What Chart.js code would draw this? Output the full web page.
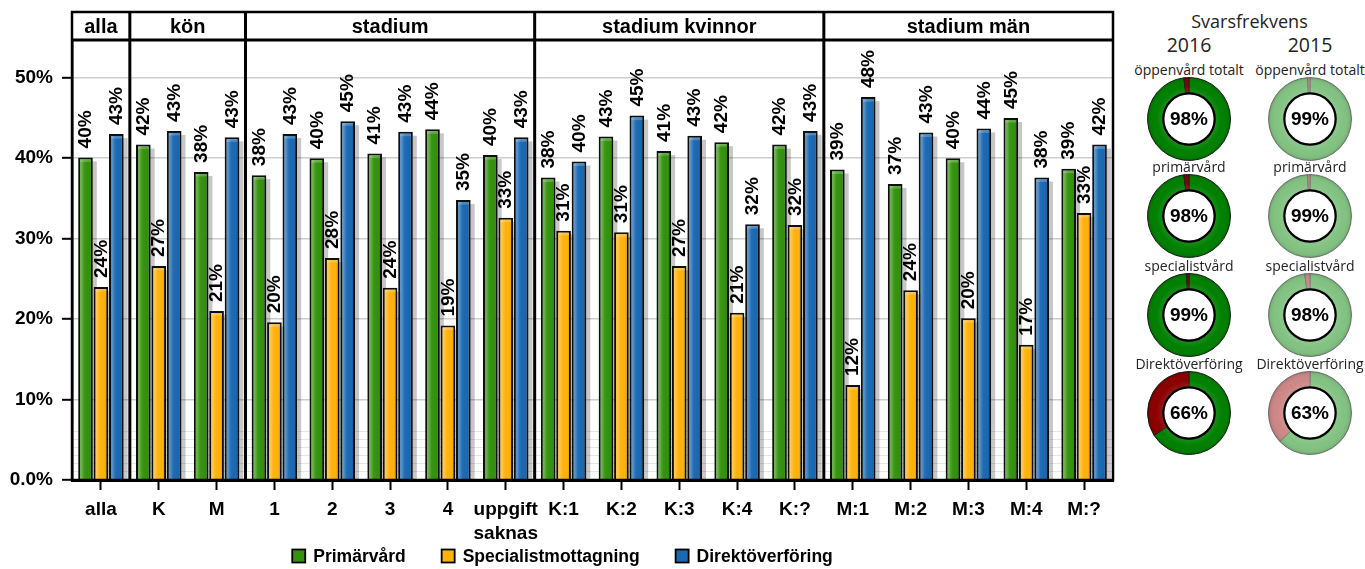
<!DOCTYPE html>
<html>
<head>
<meta charset="utf-8">
<script src="https://cdn.jsdelivr.net/npm/chart.js@4/dist/chart.umd.min.js"></script>
<style>
  html, body { margin: 0; padding: 0; background: #fff; }
  body { width: 1365px; height: 569px; overflow: hidden; position: relative; }
  #bars { position: absolute; left: 0; top: 0; }
  .rate { position: absolute; }
  .txt { position: absolute; transform: translate(-50%, -50%); white-space: nowrap;
         font-family: "Open Sans", "Noto Sans", sans-serif; color: #222; line-height: 1; }
  .title { font-size: 18px; }
  .year { font-size: 19.5px; }
  .grp { font-size: 14px; }
</style>
</head>
<body>
<canvas id="bars" width="1125" height="569"></canvas>
<div id="rates"></div>
<script>
// ---- data ----
const categories = ['alla', 'K', 'M', '1', '2', '3', '4', ['uppgift', 'saknas'],
  'K:1', 'K:2', 'K:3', 'K:4', 'K:?', 'M:1', 'M:2', 'M:3', 'M:4', 'M:?'];
const panelTitles = ['alla', 'kön', 'stadium', 'stadium kvinnor', 'stadium män'];
const panelSizes = [1, 2, 5, 5, 5];
const primarvard = [40.1, 41.7, 38.3, 37.9, 40.0, 40.6, 43.6, 40.4, 37.6, 42.7, 40.9, 42.0, 41.7, 38.6, 36.8, 40.0, 45.0, 38.7];
const specialist = [24.0, 26.6, 21.0, 19.6, 27.6, 23.9, 19.2, 32.6, 31.0, 30.8, 26.6, 20.8, 31.7, 11.8, 23.6, 20.1, 16.8, 33.2];
const direkt     = [43.0, 43.4, 42.6, 43.0, 44.6, 43.3, 34.8, 42.6, 39.6, 45.3, 42.8, 31.8, 43.4, 47.6, 43.2, 43.7, 37.6, 41.7];
const yTicks = [0, 10, 20, 30, 40, 50];
const minorTicks = [1, 2, 3, 4, 5, 6];

const rateTitle = 'Svarsfrekvens';
const rateYears = ['2016', '2015'];
const rateGroups = ['öppenvård totalt', 'primärvård', 'specialistvård', 'Direktöverföring'];
const rate2016 = [98, 98, 99, 66];
const rate2015 = [99, 99, 98, 63];

// ---- styling helpers ----
const FONT = '"Liberation Sans", Arial, sans-serif';
const pct = v => Math.round(v) + '%';

// shadows behind bars, glossy highlight on bars, rotated value labels
const barDecor = {
  id: 'barDecor',
  beforeDatasetsDraw(chart) {
    const ctx = chart.ctx;
    ctx.save();
    ctx.fillStyle = 'rgba(0,0,0,0.22)';
    chart.data.datasets.forEach((ds, i) => {
      chart.getDatasetMeta(i).data.forEach(bar => {
        const w = bar.width, left = bar.x - w / 2;
        ctx.fillRect(left + 4, bar.y + 4, w, bar.base - bar.y - 4);
      });
    });
    ctx.restore();
  },
  afterDatasetsDraw(chart) {
    const ctx = chart.ctx;
    ctx.save();
    chart.data.datasets.forEach((ds, i) => {
      chart.getDatasetMeta(i).data.forEach(bar => {
        const w = bar.width, left = bar.x - w / 2;
        const h = bar.base - bar.y;
        const g = ctx.createLinearGradient(left, 0, left + w, 0);
        g.addColorStop(0, 'rgba(255,255,255,0)');
        g.addColorStop(0.2, 'rgba(255,255,255,0.30)');
        g.addColorStop(0.42, 'rgba(255,255,255,0.04)');
        g.addColorStop(0.75, 'rgba(0,0,0,0.0)');
        g.addColorStop(1, 'rgba(0,0,0,0.22)');
        ctx.fillStyle = g;
        ctx.fillRect(left + 2, bar.y + 2, w - 4, h - 2);
        ctx.fillStyle = 'rgba(255,255,255,0.22)';
        ctx.fillRect(left + 2, bar.y + 2, w - 4, 2.5);
      });
    });
    ctx.fillStyle = '#000';
    ctx.font = 'bold 19px ' + FONT;
    ctx.textAlign = 'left';
    ctx.textBaseline = 'middle';
    chart.data.datasets.forEach((ds, i) => {
      chart.getDatasetMeta(i).data.forEach((bar, j) => {
        ctx.save();
        ctx.translate(bar.x + 0.5, bar.y - 9);
        ctx.rotate(-Math.PI / 2);
        ctx.fillText(pct(ds.data[j]), 0, 0);
        ctx.restore();
      });
    });
    ctx.restore();
  }
};

// facet header strips, facet dividers and plot frame
const panelStrips = {
  id: 'panelStrips',
  afterDraw(chart) {
    const { ctx, chartArea: a, scales: { x } } = chart;
    const half = (x.getPixelForValue(1) - x.getPixelForValue(0)) / 2;
    const stripTop = 12;
    ctx.save();
    let idx = 0;
    const edges = [];
    panelTitles.forEach((t, i) => {
      const x0 = x.getPixelForValue(idx) - half;
      const x1 = x.getPixelForValue(idx + panelSizes[i] - 1) + half;
      ctx.fillStyle = '#fff';
      ctx.fillRect(x0, stripTop, x1 - x0, a.top - stripTop);
      ctx.fillStyle = '#000';
      ctx.font = 'bold 20px ' + FONT;
      ctx.textAlign = 'center';
      ctx.textBaseline = 'middle';
      ctx.fillText(t, (x0 + x1) / 2, (stripTop + a.top) / 2 + 1);
      if (i > 0) edges.push(x0);
      idx += panelSizes[i];
    });
    ctx.strokeStyle = '#000';
    ctx.lineWidth = 2.5;
    ctx.strokeRect(a.left, stripTop, a.right - a.left, a.bottom - stripTop);
    ctx.lineWidth = 3;
    ctx.beginPath();
    ctx.moveTo(a.left, a.top);
    ctx.lineTo(a.right, a.top);
    ctx.stroke();
    edges.forEach(e => {
      ctx.beginPath();
      ctx.moveTo(e, stripTop);
      ctx.lineTo(e, a.bottom);
      ctx.stroke();
    });
    ctx.restore();
  }
};

// legend row under the axis
const legendRow = {
  id: 'legendRow',
  afterDraw(chart) {
    const ctx = chart.ctx;
    ctx.save();
    ctx.font = 'bold 17.5px ' + FONT;
    const box = 13, gapText = 8, gapItem = 36;
    const items = chart.data.datasets.map(ds => ({ label: ds.label, color: ds.backgroundColor, w: ctx.measureText(ds.label).width }));
    const total = items.reduce((s, it) => s + box + gapText + it.w, 0) + gapItem * (items.length - 1);
    let cx = chart.width / 2 - total / 2;
    const cy = 556;
    items.forEach(it => {
      ctx.fillStyle = it.color;
      ctx.fillRect(cx, cy - box / 2, box, box);
      ctx.strokeStyle = '#000';
      ctx.lineWidth = 1.8;
      ctx.strokeRect(cx, cy - box / 2, box, box);
      ctx.fillStyle = '#000';
      ctx.textAlign = 'left';
      ctx.textBaseline = 'middle';
      ctx.fillText(it.label, cx + box + gapText, cy + 1);
      cx += box + gapText + it.w + gapItem;
    });
    ctx.restore();
  }
};

const barDefaults = { borderColor: '#0e0e0e', borderWidth: 2, categoryPercentage: 0.8, barPercentage: 0.95 };

new Chart(document.getElementById('bars'), {
  type: 'bar',
  data: {
    labels: categories,
    datasets: [
      { label: 'Primärvård', data: primarvard, backgroundColor: '#33930c', ...barDefaults },
      { label: 'Specialistmottagning', data: specialist, backgroundColor: '#ffb20a', ...barDefaults },
      { label: 'Direktöverföring', data: direkt, backgroundColor: '#1a69b3', ...barDefaults }
    ]
  },
  options: {
    responsive: false,
    animation: false,
    devicePixelRatio: 1,
    layout: { padding: { left: 0, right: 12, top: 40, bottom: 0 } },
    plugins: { legend: { display: false }, tooltip: { enabled: false } },
    scales: {
      x: {
        afterFit(s) { s.height = 89; },
        grid: { display: true, offset: false, drawOnChartArea: false, drawTicks: true, tickLength: 10, tickColor: '#000', tickWidth: 2 },
        border: { display: true, color: '#000', width: 3 },
        ticks: { color: '#000', font: { family: FONT, size: 19, weight: 'bold', lineHeight: 1.25 }, padding: 8, maxRotation: 0, autoSkip: false }
      },
      y: {
        min: 0,
        max: 54.7,
        afterFit(s) { s.width = 72; },
        afterBuildTicks(s) { s.ticks = [...yTicks, ...minorTicks].sort((a, b) => a - b).map(v => ({ value: v })); },
        grid: {
          color: c => yTicks.includes(c.tick.value) ? '#cdcdcd' : '#e6e6e6',
          lineWidth: c => yTicks.includes(c.tick.value) ? 1.6 : 1,
          tickColor: c => yTicks.includes(c.tick.value) ? '#000' : 'rgba(0,0,0,0)',
          drawTicks: true,
          tickLength: 10,
          tickWidth: 2
        },
        border: { display: true, color: '#000', width: 2.5 },
        ticks: {
          color: '#000',
          padding: 9,
          font: { family: FONT, size: 19, weight: 'bold' },
          callback: v => yTicks.includes(v) ? (v === 0 ? '0.0%' : v + '%') : ''
        }
      }
    }
  },
  plugins: [barDecor, panelStrips, legendRow]
});

// ---- response-rate rings ----
const rateCenter = {
  id: 'rateCenter',
  afterDraw(chart) {
    const { ctx } = chart;
    const arc = chart.getDatasetMeta(0).data[0];
    const cx = arc.x, cy = arc.y, ro = arc.outerRadius, ri = arc.innerRadius;
    ctx.save();
    const g = ctx.createRadialGradient(cx, cy, ri, cx, cy, ro);
    g.addColorStop(0, 'rgba(255,255,255,0.10)');
    g.addColorStop(0.45, 'rgba(255,255,255,0)');
    g.addColorStop(0.85, 'rgba(0,0,0,0.04)');
    g.addColorStop(1, 'rgba(0,0,0,0.18)');
    ctx.beginPath();
    ctx.arc(cx, cy, ro, 0, Math.PI * 2);
    ctx.arc(cx, cy, ri, 0, Math.PI * 2, true);
    ctx.fillStyle = g;
    ctx.fill();
    ctx.beginPath();
    ctx.arc(cx, cy, ri - 0.5, 0, Math.PI * 2);
    ctx.fillStyle = '#fff';
    ctx.fill();
    ctx.lineWidth = 2.2;
    ctx.strokeStyle = '#000';
    ctx.stroke();
    ctx.fillStyle = '#000';
    ctx.font = 'bold 19px ' + FONT;
    ctx.textAlign = 'center';
    ctx.textBaseline = 'middle';
    ctx.fillText(chart.data.datasets[0].data[0] + '%', cx, cy + 1);
    ctx.restore();
  }
};

const rateHost = document.getElementById('rates');
const colX = [1189, 1310];
const rowY = [119, 216, 315, 413];
const palettes = [
  { fill: ['#008000', '#8b0000'], border: '#1e1e1e' },
  { fill: ['#82c282', '#cd8787'], border: '#7a7a7a' }
];

function addText(text, cls, x, y) {
  const d = document.createElement('div');
  d.className = 'txt ' + cls;
  d.textContent = text;
  d.style.left = x + 'px';
  d.style.top = y + 'px';
  rateHost.appendChild(d);
}

addText(rateTitle, 'title', (colX[0] + colX[1]) / 2, 21);
rateYears.forEach((yr, c) => addText(yr, 'year', colX[c], 45));

[rate2016, rate2015].forEach((vals, c) => {
  vals.forEach((v, r) => {
    addText(rateGroups[r], 'grp', colX[c], rowY[r] - 49);
    const cv = document.createElement('canvas');
    cv.className = 'rate';
    cv.width = 92; cv.height = 92;
    cv.style.left = (colX[c] - 46) + 'px';
    cv.style.top = (rowY[r] - 46) + 'px';
    rateHost.appendChild(cv);
    new Chart(cv, {
      type: 'doughnut',
      data: {
        labels: ['svar', 'bortfall'],
        datasets: [{ data: [v, 100 - v], backgroundColor: palettes[c].fill, borderColor: palettes[c].border, borderWidth: 1 }]
      },
      options: {
        responsive: false,
        animation: false,
        devicePixelRatio: 1,
        cutout: '63%',
        layout: { padding: 4 },
        plugins: { legend: { display: false }, tooltip: { enabled: false } }
      },
      plugins: [rateCenter]
    });
  });
});
</script>
</body>
</html>
